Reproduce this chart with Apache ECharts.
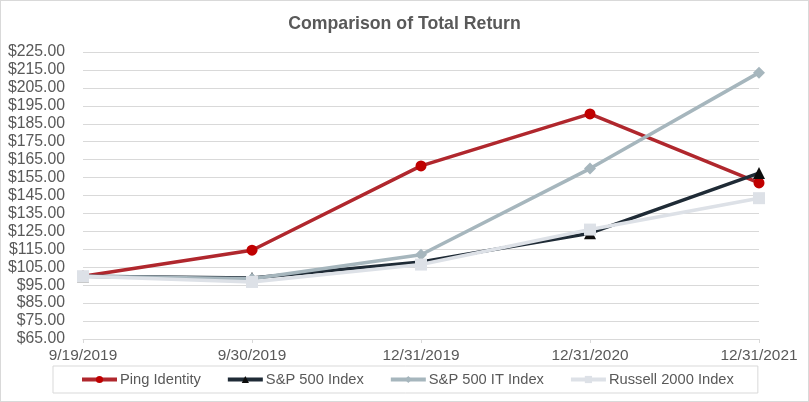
<!DOCTYPE html>
<html><head><meta charset="utf-8">
<script src="https://cdn.jsdelivr.net/npm/echarts@6/dist/echarts.min.js"></script>
<style>html,body{margin:0;padding:0;background:#fff}#c{width:809px;height:402px;box-sizing:border-box;border:1px solid #d9d9d9}</style>
</head><body><div id="c"></div>
<script>
const categories = ['9/19/2019','9/30/2019','12/31/2019','12/31/2020','12/31/2021'];
const pingIdentity = [100, 114.5, 161.5, 190.5, 152];
const sp500 = [100, 99, 108, 124, 157.5];
const sp500IT = [100, 98.6, 112, 160, 213.5];
const russell2000 = [100, 96.8, 106.5, 126, 143.5];
const legendNames = ['Ping Identity','S&P 500 Index','S&P 500 IT Index','Russell 2000 Index'];

const chart = echarts.init(document.getElementById('c'), null, {renderer:'canvas'});
const font = '"Liberation Sans", Arial, sans-serif';
function s(name, data, lineColor, markerColor, symbol, size){
  return {name, type:'line', data, symbol, symbolSize:size, showSymbol:true,
    lineStyle:{color:lineColor, width:3.5}, itemStyle:{color:markerColor, borderWidth:0}, emphasis:{disabled:true}};
}
chart.setOption({
  animation:false,
  title:{text:'Comparison of Total Return', left:'center', top:9,
    textStyle:{fontFamily:font, fontSize:17.7, fontWeight:'bold', color:'#595959'}},
  grid:{left:82, right:49, top:51, bottom:62},
  xAxis:{type:'category', data:categories, boundaryGap:false,
    axisLine:{lineStyle:{color:'#d9d9d9'}}, axisTick:{show:true, length:4, lineStyle:{color:'#d9d9d9'}},
    axisLabel:{fontFamily:font, fontSize:15.4, color:'#595959', margin:9, showMinLabel:true, showMaxLabel:true, interval:0},
    splitLine:{show:false}},
  yAxis:{type:'value', min:65, max:225, interval:10,
    axisLine:{show:false}, axisTick:{show:false},
    axisLabel:{fontFamily:font, fontSize:15.8, color:'#595959', margin:18, formatter:v=>'$'+v.toFixed(2)},
    splitLine:{lineStyle:{color:'#d9d9d9'}}},
  legend:{left:52, top:365, itemWidth:35, itemHeight:9, itemGap:25,
    borderColor:'#d9d9d9', borderWidth:1, padding:[6,24,6,27],
    lineStyle:{width:4},
    textStyle:{fontFamily:font, fontSize:14.7, lineHeight:15, color:'#595959', padding:[0,0,0,-2]},
    data:legendNames},
  series:[
    s(legendNames[0], pingIdentity, '#b0272d', '#c00000', 'circle', 11),
    s(legendNames[1], sp500, '#1f2b36', '#0d0d0d', 'triangle', 12),
    s(legendNames[2], sp500IT, '#a6b6bd', '#a6b6bd', 'diamond', 12),
    s(legendNames[3], russell2000, '#dde1e7', '#dde1e7', 'rect', 12)
  ]
});
</script></body></html>
